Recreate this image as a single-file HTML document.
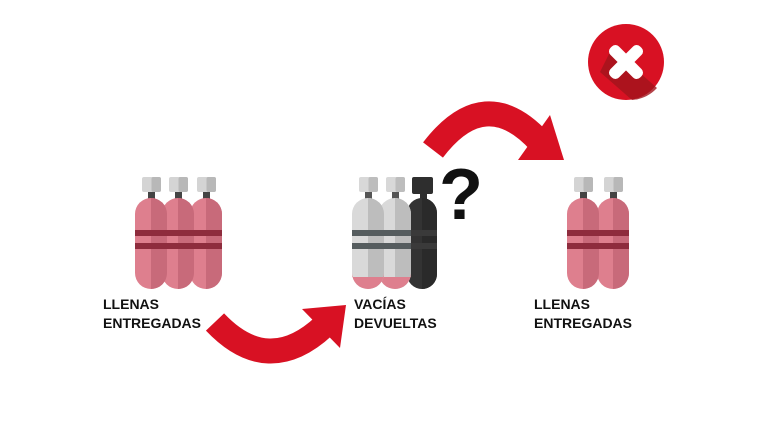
<!DOCTYPE html>
<html><head><meta charset="utf-8"><style>
html,body{margin:0;padding:0;background:#fff;width:768px;height:432px;overflow:hidden}
svg{display:block}
text{font-family:"Liberation Sans",sans-serif;font-weight:bold;font-size:14px;fill:#111}
</style></head><body>
<svg width="768" height="432" viewBox="0 0 768 432">
<defs>
<g id="pink">
  <rect x="7" y="0" width="19" height="15" rx="2" fill="#d4d4d4"/>
  <rect x="16.5" y="0" width="9.5" height="15" rx="2" fill="#b8b8b8"/>
  <rect x="13" y="15" width="7" height="7" fill="#444"/>
  <rect x="0" y="21" width="32" height="91" rx="16" fill="#de7f8e"/>
  <path d="M16,21 A16,16 0 0 1 32,37 V96 A16,16 0 0 1 16,112 Z" fill="#c86a7a"/>
  <rect x="0" y="53" width="32" height="6" fill="#8e2c3d"/>
  <rect x="0" y="66" width="32" height="6" fill="#8e2c3d"/>
</g>
<g id="grey">
  <rect x="7" y="0" width="19" height="15" rx="2" fill="#d8d8d8"/>
  <rect x="16.5" y="0" width="9.5" height="15" rx="2" fill="#bdbdbd"/>
  <rect x="13" y="15" width="7" height="7" fill="#555"/>
  <rect x="0" y="21" width="32" height="91" rx="16" fill="#d9d9d9"/>
  <path d="M16,21 A16,16 0 0 1 32,37 V96 A16,16 0 0 1 16,112 Z" fill="#bdbdbd"/>
  <path d="M0,100 H32 V96 A16,16 0 0 1 0,96 Z" fill="#de7f8e"/>
  <rect x="0" y="53" width="32" height="6" fill="#555c5e"/>
  <rect x="0" y="66" width="32" height="6" fill="#555c5e"/>
</g>
<g id="dark">
  <rect x="5" y="0" width="21" height="17" rx="2" fill="#2e2e2e"/>
  <rect x="13" y="15" width="7" height="7" fill="#2e2e2e"/>
  <rect x="0" y="21" width="30" height="91" rx="15" fill="#333"/>
  <path d="M15,21 A15,15 0 0 1 30,36 V97 A15,15 0 0 1 15,112 Z" fill="#2a2a2a"/>
  <rect x="0" y="53" width="30" height="6" fill="#3a3a3a"/>
  <rect x="0" y="66" width="30" height="6" fill="#3a3a3a"/>
</g>
</defs>
<use href="#pink" x="190" y="177"/>
<use href="#pink" x="162" y="177"/>
<use href="#pink" x="135" y="177"/>
<use href="#dark" x="407" y="177"/>
<use href="#grey" x="379" y="177"/>
<use href="#grey" x="352" y="177"/>
<use href="#pink" x="597" y="177"/>
<use href="#pink" x="567" y="177"/>

<path d="M215,322 Q268,378 324,326" fill="none" stroke="#d81123" stroke-width="25"/>
<polygon points="302,309 346,305 340,348" fill="#d81123"/>
<path d="M433,150 Q485,82 540,142" fill="none" stroke="#d81123" stroke-width="25"/>
<polygon points="550,115 564,160 518,160" fill="#d81123"/>

<text x="439" y="219" style="font-size:72px;fill:#111">?</text>

<circle cx="626" cy="62" r="38" fill="#d81123"/>
<path d="M612,48 L657,88 A38,38 0 0 1 632,100 L600,72 Z" fill="#a1141c" opacity="0.8"/>
<g transform="translate(626,62) rotate(45)">
  <rect x="-21" y="-6" width="42" height="12" rx="5" fill="#fff"/>
  <rect x="-6" y="-21" width="12" height="42" rx="5" fill="#fff"/>
</g>

<text x="103" y="309">LLENAS</text>
<text x="103" y="328">ENTREGADAS</text>
<text x="354" y="309">VACÍAS</text>
<text x="354" y="328">DEVUELTAS</text>
<text x="534" y="309">LLENAS</text>
<text x="534" y="328">ENTREGADAS</text>
</svg>
</body></html>
